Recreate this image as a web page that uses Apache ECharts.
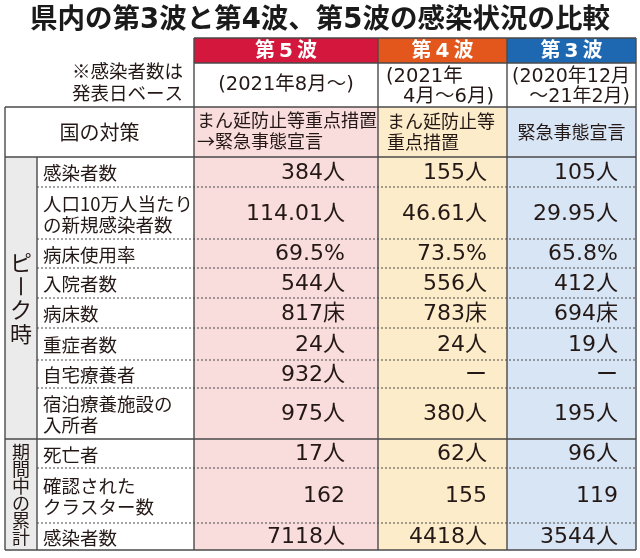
<!DOCTYPE html>
<html>
<head>
<meta charset="utf-8">
<script src="https://cdn.jsdelivr.net/npm/echarts@6/dist/echarts.min.js"></script>
<style>
html, body { margin: 0; background: #fff; }
#main { width: 640px; height: 558px; }
</style>
</head>
<body>
<div id="main"></div>
<script>
// 表のデータ
var title = '県内の第3波と第4波、第5波の感染状況の比較';
var waves = ['第5波', '第4波', '第3波'];
var periods = [['(2021年8月〜)'], ['(2021年', '4月〜6月)'], ['(2020年12月', '〜21年2月)']];
var note = ['※感染者数は', '発表日ベース'];
var measureTitle = '国の対策';
var measures = [['まん延防止等重点措置', '→緊急事態宣言'], ['まん延防止等', '重点措置'], ['緊急事態宣言']];
var groups = ['ピーク時', '期間中の累計'];
var groupSize = [8, 3];
var items = [['感染者数'], ['人口10万人当たり', 'の新規感染者数'], ['病床使用率'], ['入院者数'], ['病床数'],
             ['重症者数'], ['自宅療養者'], ['宿泊療養施設の', '入所者'], ['死亡者'], ['確認された', 'クラスター数'], ['感染者数']];
var units = ['人', '人', '%', '人', '床', '人', '人', '人', '人', '', '人'];
var wave5 = [384, 114.01, 69.5, 544, 817, 24, 932, 975, 17, 162, 7118];
var wave4 = [155, 46.61, 73.5, 556, 783, 24, null, 380, 62, 155, 4418];
var wave3 = [105, 29.95, 65.8, 412, 694, 19, null, 195, 96, 119, 3544];
var waveValues = [wave5, wave4, wave3];

// レイアウト
var colX = [5, 37, 194, 378, 507, 636];
var headTop = 38, head2Top = 63, measTop = 107, bodyTop = 157;
var rowH = [30, 52, 29, 30, 30, 32, 28, 51, 29, 55, 27];
var valRight = [345, 487, 618];
var headColor = ['#d3173d', '#e3561c', '#1e68b2'];
var cellColor = ['#f9dcdc', '#fdecca', '#d8e5f5'];
var lineColor = '#4a4a4a';
var JP = '"Noto Sans CJK JP"';
var NUM = '"DejaVu Sans", "Noto Sans CJK JP"';

var g = [];
function rect(x, y, w, h, fill) {
    g.push({ type: 'rect', shape: { x: x, y: y, width: w, height: h }, style: { fill: fill } });
}
function line(x1, y1, x2, y2, dash, w, color) {
    g.push({ type: 'line', z: 5, shape: { x1: x1, y1: y1, x2: x2, y2: y2 },
        style: { stroke: color || lineColor, lineWidth: w || 1.4, lineDash: dash ? [2, 2] : null } });
}
function text(str, x, y, size, align, opt) {
    opt = opt || {};
    g.push({ type: 'text', x: x, y: y, z: 10,
        style: { text: str, fill: opt.color || '#231815', fontSize: size, fontFamily: opt.family || JP,
            fontWeight: opt.weight || 'normal', textAlign: align, textVerticalAlign: 'middle' } });
}
function lines(arr, x, cy, size, align, gap, opt) {
    for (var i = 0; i < arr.length; i++) {
        text(arr[i], x, cy + (i - (arr.length - 1) / 2) * gap, size, align, opt);
    }
}

// 行の境界
var rowY = [bodyTop];
rowH.forEach(function (h) { rowY.push(rowY[rowY.length - 1] + h); });
var bottom = rowY[rowY.length - 1];

// 背景
rect(colX[0], bodyTop, colX[1] - colX[0], bottom - bodyTop, '#ebebeb');
for (var c = 0; c < 3; c++) {
    rect(colX[c + 2], headTop, colX[c + 3] - colX[c + 2], head2Top - headTop, headColor[c]);
    rect(colX[c + 2], measTop, colX[c + 3] - colX[c + 2], bottom - measTop, cellColor[c]);
}

// タイトル
text(title, 320, 21, 27.5, 'center', { weight: 'bold', family: NUM, color: '#1a1a1a' });

// 見出し
for (var c = 0; c < 3; c++) {
    var cx = (colX[c + 2] + colX[c + 3]) / 2;
    text(waves[c].split('').join('\u2009'), cx, (headTop + head2Top) / 2 + 1, 20, 'center',
        { weight: 'bold', color: '#fff', family: NUM });
}
var pOpt = { family: NUM };
text(periods[0][0], (colX[2] + colX[3]) / 2, 85, 19.5, 'center', pOpt);
text(periods[1][0], colX[3] + 8, 77, 19.5, 'left', pOpt);
text(periods[1][1], colX[4] - 13, 97, 19.5, 'right', pOpt);
text(periods[2][0], colX[5] - 6, 77, 19, 'right', pOpt);
text(periods[2][1], colX[5] - 6, 97, 19, 'right', pOpt);
lines(note, 183, 82, 18.5, 'right', 22);

// 国の対策
var measCy = (measTop + bodyTop) / 2;
text(measureTitle, (colX[0] + colX[2]) / 2, measCy, 20, 'center');
lines(measures[0], colX[2] + 3, measCy - 1, 18, 'left', 21);
lines(measures[1], colX[3] + 9, measCy, 18, 'left', 21);
lines(measures[2], (colX[4] + colX[5]) / 2, measCy, 18, 'center', 21);

// 各行
for (var r = 0; r < items.length; r++) {
    var cy = (rowY[r] + rowY[r + 1]) / 2;
    lines(items[r], colX[1] + 6, cy + 1, 18.5, 'left', 21);
    for (var c = 0; c < 3; c++) {
        var v = waveValues[c][r];
        var s = v === null ? 'ー' : String(v) + units[r];
        text(s, valRight[c], cy + 1, 22, 'right', { family: NUM });
    }
}

// 縦書きのグループ名
var start = 0;
var pitch = [23.5, 17];
var gsize = [22, 18];
var gx = (colX[0] + colX[1]) / 2;
for (var k = 0; k < groups.length; k++) {
    var y0 = rowY[start], y1 = rowY[start + groupSize[k]];
    var chars = groups[k].split('');
    for (var i = 0; i < chars.length; i++) {
        var ty = (y0 + y1) / 2 + (i - (chars.length - 1) / 2) * pitch[k];
        if (chars[i] === 'ー') {
            // 縦書きの長音
            line(gx, ty - 9, gx, ty + 9, false, 1.8, '#231815');
        } else {
            text(chars[i], gx, ty, gsize[k], 'center', { color: '#231815' });
        }
    }
    start += groupSize[k];
}

// 罫線
line(colX[2], headTop, colX[5], headTop);
line(colX[2], head2Top, colX[5], head2Top);
line(colX[0], measTop, colX[5], measTop);
line(colX[0], bodyTop, colX[5], bodyTop);
for (var r = 1; r < items.length; r++) {
    if (r === groupSize[0]) line(colX[0], rowY[r], colX[5], rowY[r]);
    else line(colX[1], rowY[r], colX[5], rowY[r], true, 1);
}
line(colX[0], bottom, colX[5], bottom);
line(colX[0], measTop, colX[0], bottom);
line(colX[1], bodyTop, colX[1], bottom);
for (var c = 2; c < 6; c++) line(colX[c], headTop, colX[c], bottom);

var chart = echarts.init(document.getElementById('main'));
chart.setOption({
    backgroundColor: '#fff',
    graphic: { elements: g }
});
</script>
</body>
</html>
